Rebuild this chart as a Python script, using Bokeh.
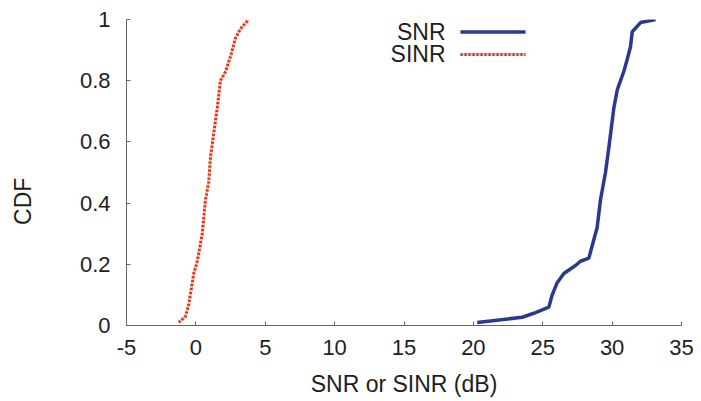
from bokeh.plotting import figure
from bokeh.models import Range1d, FixedTicker, Label, Arrow
from bokeh.embed import file_html
from bokeh.resources import INLINE

# Data (dB, CDF)
snr_x = [20.28, 23.52, 24.35, 25.44, 25.68, 26.04, 26.52, 27.36, 27.72, 28.32, 28.68,
         28.92, 29.16, 29.52, 29.76, 30.01, 30.12, 30.37, 30.84, 31.09, 31.32, 31.45,
         32.05, 33.13]
snr_y = [0.01, 0.027, 0.04, 0.06, 0.10, 0.14, 0.17, 0.196, 0.21, 0.22, 0.28,
         0.32, 0.41, 0.50, 0.58, 0.67, 0.71, 0.77, 0.83, 0.87, 0.91, 0.96,
         0.99, 1.0]
sinr_x = [-1.23, -0.75, -0.51, -0.15, 0.10, 0.46, 0.69, 0.93, 1.05, 1.29, 1.54,
          1.77, 2.14, 2.50, 2.86, 3.22, 3.81]
sinr_y = [0.01, 0.03, 0.07, 0.17, 0.21, 0.30, 0.41, 0.47, 0.55, 0.63, 0.71,
          0.80, 0.83, 0.88, 0.94, 0.97, 1.0]
x_ticks = [-5, 0, 5, 10, 15, 20, 25, 30, 35]
y_ticks = [0, 0.2, 0.4, 0.6, 0.8, 1]
series_names = ["SNR", "SINR"]

FONT = "Liberation Sans"
SNR_COLOR = "#2b3890"
SINR_COLOR = "#cf3424"
SINR_UNDER = "#f2b08a"

p = figure(width=701, height=401, output_backend="svg", toolbar_location=None,
           x_range=Range1d(-5, 35), y_range=Range1d(0, 1.0),
           min_border_left=126, min_border_right=20, min_border_top=19,
           min_border_bottom=76)
p.outline_line_color = None
p.grid.grid_line_color = None
p.background_fill_color = "white"
p.border_fill_color = "white"

p.xaxis.ticker = FixedTicker(ticks=x_ticks)
p.yaxis.ticker = FixedTicker(ticks=y_ticks)
p.xaxis.major_label_overrides = {-5: "-5"}
p.yaxis.major_label_overrides = {0: "0", 1: "1"}

for ax in (p.xaxis[0], p.yaxis[0]):
    ax.axis_line_color = "#666666"
    ax.axis_line_width = 1
    ax.major_tick_line_color = "#666666"
    ax.major_tick_in = 4
    ax.major_tick_out = 0
    ax.minor_tick_line_color = None
    ax.major_label_text_font = FONT
    ax.major_label_text_font_size = "22px"
    ax.major_label_text_color = "#1e1e1e"
    ax.axis_label_text_font = FONT
    ax.axis_label_text_font_size = "23px"
    ax.axis_label_text_font_style = "normal"
    ax.axis_label_text_color = "#1e1e1e"

p.xaxis.axis_label = "SNR or SINR (dB)"
# trailing no-break spaces move the visible title a little below the frame centre
p.yaxis.axis_label = "CDF" + "\u00a0" * 9
p.xaxis.major_label_standoff = 14
p.xaxis.axis_label_standoff = 13
p.yaxis.major_label_standoff = 16
p.yaxis.axis_label_standoff = 41

# SNR solid line
p.line(snr_x, snr_y, line_color=SNR_COLOR, line_width=3.5)
# SINR dotted line
p.line(sinr_x, sinr_y, line_color=SINR_UNDER, line_width=3, line_alpha=0.8)
p.line(sinr_x, sinr_y, line_color=SINR_COLOR, line_width=3, line_dash="2 2")

# Legend (drawn manually: labels right-aligned, sample line to the right)
leg_y = [0.959, 0.886]
for name, ly in zip(series_names, leg_y):
    p.add_layout(Label(x=17.99, y=ly, text=name, text_align="right",
                       text_baseline="middle", text_font=FONT,
                       text_font_size="23px", text_color="#1e1e1e"))
p.add_layout(Arrow(end=None, x_start=19.07, y_start=leg_y[0], x_end=23.76, y_end=leg_y[0],
                   line_color=SNR_COLOR, line_width=3.5))
p.add_layout(Arrow(end=None, x_start=19.07, y_start=leg_y[1], x_end=23.76, y_end=leg_y[1],
                   line_color=SINR_UNDER, line_width=3, line_alpha=0.8))
p.add_layout(Arrow(end=None, x_start=19.07, y_start=leg_y[1], x_end=23.76, y_end=leg_y[1],
                   line_color=SINR_COLOR, line_width=3, line_dash="2 2"))

open("out.html", "w").write(file_html(p, INLINE))
